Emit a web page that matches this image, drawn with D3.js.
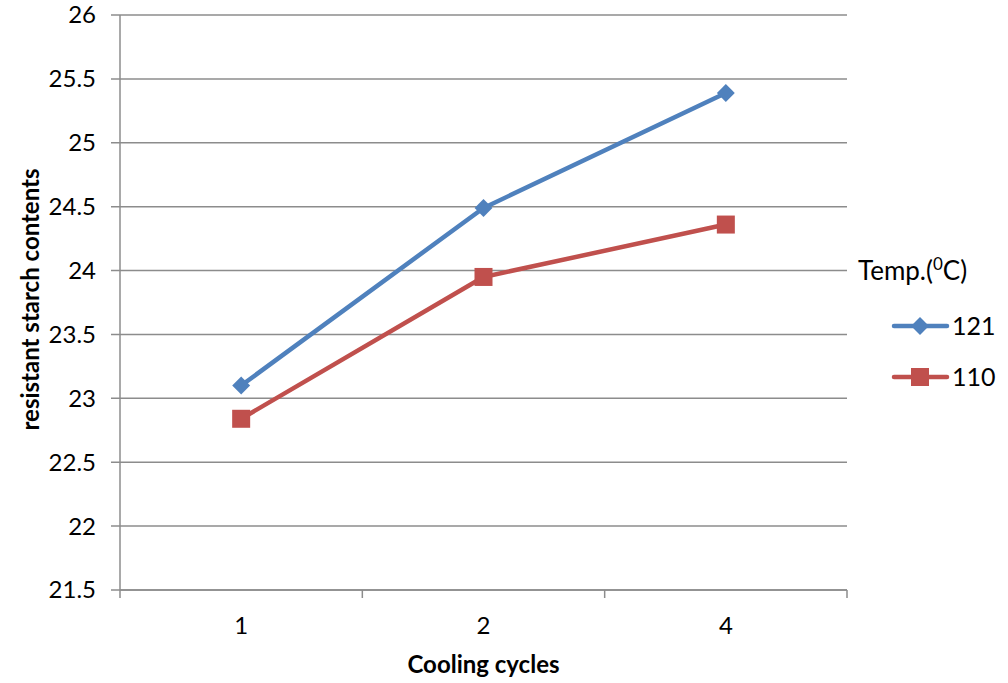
<!DOCTYPE html>
<html>
<head>
<meta charset="utf-8">
<script src="https://cdn.jsdelivr.net/npm/d3@7"></script>
<style>
  body { margin: 0; background: #fff; }
  text { font-family: Lato, "Open Sans", sans-serif; fill: #000; }
</style>
</head>
<body>
<div id="chart"></div>
<script>
// chart data
var categories = ["1", "2", "4"];
var seriesNames = ["121", "110"];
var values121 = [23.1, 24.49, 25.39];
var values110 = [22.84, 23.95, 24.36];
var yTicks = [21.5, 22, 22.5, 23, 23.5, 24, 24.5, 25, 25.5, 26];

function init(){
    var w = 1008;
    var h = 683;
    var left = 120, right = 847, top = 15, bottom = 590;

    var colors = ["#4F81BD", "#C0504D"];
    var series = [
        {name: seriesNames[0], values: values121, color: colors[0], shape: "diamond"},
        {name: seriesNames[1], values: values110, color: colors[1], shape: "square"}
    ];

    var svg = d3.select("#chart")
                .append("svg")
                .attr("width", w)
                .attr("height", h);

    var xScale = d3.scaleBand()
                    .domain(categories)
                    .range([left, right]);

    var yScale = d3.scaleLinear()
                    .domain([21.5, 26])
                    .range([bottom, top]);

    // horizontal gridlines (with the small tick stubs left of the axis)
    svg.append("g")
        .selectAll("line")
        .data(yTicks)
        .enter()
        .append("line")
        .attr("x1", left - 9)
        .attr("x2", right)
        .attr("y1", function(d){ return yScale(d); })
        .attr("y2", function(d){ return yScale(d); })
        .attr("stroke", "#8c8c8c")
        .attr("stroke-width", 1.5);

    // y tick labels
    svg.append("g")
        .selectAll("text")
        .data(yTicks)
        .enter()
        .append("text")
        .attr("x", 96)
        .attr("y", function(d){ return yScale(d); })
        .attr("dy", "0.35em")
        .attr("text-anchor", "end")
        .style("font-size", "24px")
        .text(function(d){ return d; });

    // y axis line
    svg.append("line")
        .attr("x1", left).attr("x2", left)
        .attr("y1", top).attr("y2", bottom)
        .attr("stroke", "#8c8c8c")
        .attr("stroke-width", 1.5);

    // x axis using band scale, ticks at band edges
    var xAxis = d3.axisBottom(xScale).tickSize(0).tickPadding(27);
    var gx = svg.append("g")
        .attr("transform", "translate(0," + bottom + ")")
        .call(xAxis);
    gx.select(".domain").remove();
    gx.selectAll("text")
        .style("font-size", "24px")
        .style("font-family", "Lato, 'Open Sans', sans-serif")
        .attr("fill", "#000");

    var edges = categories.map(function(c){ return xScale(c); }).concat([xScale.range()[1]]);
    svg.append("g")
        .selectAll("line")
        .data(edges)
        .enter()
        .append("line")
        .attr("x1", function(d){ return d; })
        .attr("x2", function(d){ return d; })
        .attr("y1", bottom)
        .attr("y2", bottom + 8)
        .attr("stroke", "#8c8c8c")
        .attr("stroke-width", 1.5);

    svg.append("line")
        .attr("x1", left).attr("x2", right)
        .attr("y1", bottom).attr("y2", bottom)
        .attr("stroke", "#8c8c8c")
        .attr("stroke-width", 1.5);

    // axis titles
    svg.append("text")
        .attr("x", (left + right) / 2)
        .attr("y", 673)
        .attr("text-anchor", "middle")
        .style("font-size", "24px")
        .style("font-weight", "bold")
        .text("Cooling cycles");

    svg.append("text")
        .attr("transform", "translate(39," + ((top + bottom) / 2 - 3) + ") rotate(-90)")
        .attr("text-anchor", "middle")
        .style("font-size", "24px")
        .style("font-weight", "bold")
        .text("resistant starch contents");

    var line = d3.line()
        .x(function(d, i){ return xScale(categories[i]) + xScale.bandwidth() / 2; })
        .y(function(d){ return yScale(d); });

    function drawMarker(g, shape, color, x, y){
        if (shape === "diamond") {
            g.append("path")
                .attr("d", d3.symbol().type(d3.symbolSquare).size(160)())
                .attr("transform", "translate(" + x + "," + y + ") rotate(45)")
                .attr("fill", color);
        } else {
            g.append("rect")
                .attr("x", x - 9).attr("y", y - 9)
                .attr("width", 18).attr("height", 18)
                .attr("fill", color);
        }
    }

    series.forEach(function(s){
        var g = svg.append("g");
        g.append("path")
            .datum(s.values)
            .attr("d", line)
            .attr("fill", "none")
            .attr("stroke", s.color)
            .attr("stroke-width", 4.5)
            .attr("stroke-linejoin", "round")
            .attr("stroke-linecap", "round");
        s.values.forEach(function(v, i){
            drawMarker(g, s.shape, s.color,
                xScale(categories[i]) + xScale.bandwidth() / 2, yScale(v));
        });
    });

    // legend
    var legend = svg.append("g");
    var title = legend.append("text")
        .attr("x", 858)
        .attr("y", 280)
        .style("font-size", "26px");
    title.append("tspan").text("Temp.(");
    title.append("tspan").attr("dy", -10).style("font-size", "17px").text("0");
    title.append("tspan").attr("dy", 10).text("C)");

    series.forEach(function(s, i){
        var ly = 326 + i * 51;
        legend.append("line")
            .attr("x1", 894).attr("x2", 947)
            .attr("y1", ly).attr("y2", ly)
            .attr("stroke", s.color)
            .attr("stroke-width", 4.5)
            .attr("stroke-linecap", "round");
        drawMarker(legend, s.shape, s.color, 920, ly);
        legend.append("text")
            .attr("x", 952)
            .attr("y", ly)
            .attr("dy", "0.35em")
            .style("font-size", "25px")
            .text(s.name);
    });
}

window.onload = init;
</script>
</body>
</html>
